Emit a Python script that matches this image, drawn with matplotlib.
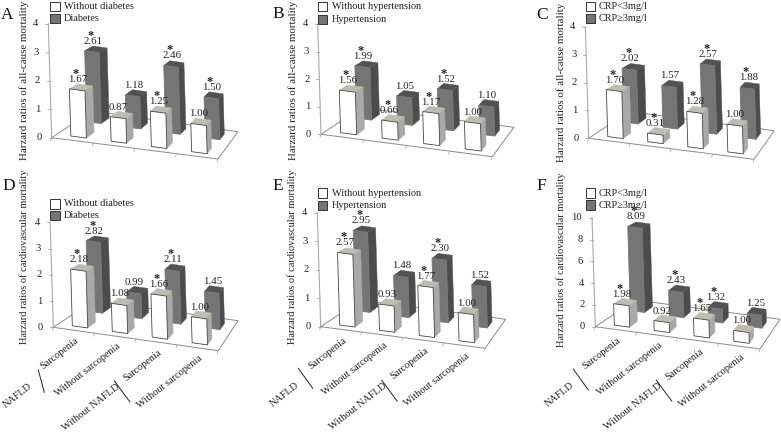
import numpy as np
import matplotlib
matplotlib.use("Agg")
import matplotlib.pyplot as plt
from matplotlib.patches import Polygon, Rectangle

plt.rcParams["font.family"] = ["Liberation Serif", "DejaVu Sans"]

# values, front row then back row
a_front = [1.67, 0.87, 1.25, 1.00]
a_back = [2.61, 1.18, 2.46, 1.50]
b_front = [1.56, 0.66, 1.17, 1.00]
b_back = [1.99, 1.05, 1.52, 1.10]
c_front = [1.70, 0.31, 1.28, 1.00]
c_back = [2.02, 1.57, 2.57, 1.88]
d_front = [2.18, 1.08, 1.66, 1.00]
d_back = [2.82, 0.99, 2.11, 1.45]
e_front = [2.57, 0.93, 1.77, 1.00]
e_back = [2.95, 1.48, 2.30, 1.52]
f_front = [1.98, 0.92, 1.65, 1.00]
f_back = [8.09, 2.43, 1.32, 1.25]

# significance stars
a_front_star = [1, 0, 1, 0]
a_back_star = [1, 0, 1, 1]
b_front_star = [1, 1, 1, 0]
b_back_star = [1, 0, 1, 0]
c_front_star = [1, 1, 1, 0]
c_back_star = [1, 0, 1, 1]
d_front_star = [1, 0, 1, 0]
d_back_star = [1, 0, 1, 0]
e_front_star = [1, 0, 1, 0]
e_back_star = [1, 0, 1, 0]
f_front_star = [1, 0, 1, 0]
f_back_star = [1, 1, 1, 0]

sarc_labels = ["Sarcopenia", "Without sarcopenia", "Sarcopenia", "Without sarcopenia"]
ticks_4 = [0, 1, 2, 3, 4]
ticks_10 = [0, 2, 4, 6, 8, 10]

ALLCAUSE = "Harzard ratios of all-cause mortality"
CARDIO = "Harzard ratios of cardiovascular mortality"
DM = ["Without diabetes", "Diabetes"]
HT = ["Without hypertension", "Hypertension"]
CRP = ["CRP<3mg/l", "CRP≥3mg/l"]

WHITE = ("#ffffff", "#a9a9a9", "#bdbdb0")   # front, side, top
DARK = ("#757575", "#4c4c4c", "#525252")

# letter, data, layout in pixels of the 781x437 picture
panels = [
    dict(name="A", front=a_front, back=a_back, fs=a_front_star, bs=a_back_star, ticks=ticks_4,
         ylabel=ALLCAUSE, legend=DM, fl=(51.7, 137.7), fr=(218, 159), br=(238, 131.7), s=28.5,
         name_xy=(7.5, 15), ylab_xy=(24, 80), box_x=50, text_x=63.5, leg_y=(6.4, 18.7), cats=False),
    dict(name="B", front=b_front, back=b_back, fs=b_front_star, bs=b_back_star, ticks=ticks_4,
         ylabel=ALLCAUSE, legend=HT, fl=(321, 134.3), fr=(492.3, 156.7), br=(514, 127.3), s=27.6,
         name_xy=(278.5, 14), ylab_xy=(293, 80), box_x=317.5, text_x=332, leg_y=(6.4, 19.5), cats=False),
    dict(name="C", front=c_front, back=c_back, fs=c_front_star, bs=c_back_star, ticks=ticks_4,
         ylabel=ALLCAUSE, legend=CRP, fl=(588.7, 138.3), fr=(754, 159.3), br=(774.3, 130.7), s=27.9,
         name_xy=(542.5, 15), ylab_xy=(561, 82), box_x=585.7, text_x=599, leg_y=(6.4, 18.7), cats=False),
    dict(name="D", front=d_front, back=d_back, fs=d_front_star, bs=d_back_star, ticks=ticks_4,
         ylabel=CARDIO, legend=DM, fl=(53.3, 327.3), fr=(218.3, 350.7), br=(238, 320.7), s=26.25,
         name_xy=(9, 186), ylab_xy=(24, 257), box_x=50, text_x=63.5, leg_y=(204, 215.5), cats=True,
         line1=(-15, 42.7, -9, 65)),
    dict(name="E", front=e_front, back=e_back, fs=e_front_star, bs=e_back_star, ticks=ticks_4,
         ylabel=CARDIO, legend=HT, fl=(320.7, 326.7), fr=(485, 348.3), br=(505.7, 319.3), s=28.5,
         name_xy=(277.5, 186), ylab_xy=(292, 257), box_x=317.5, text_x=332, leg_y=(193, 205.5), cats=True,
         line1=(-22.4, 41.6, -8, 61.6)),
    dict(name="F", front=f_front, back=f_back, fs=f_front_star, bs=f_back_star, ticks=ticks_10,
         ylabel=CARDIO, legend=CRP, fl=(595.3, 326.7), fr=(760, 349), br=(780, 319.3), s=10.9,
         name_xy=(541.5, 186), ylab_xy=(561, 260), box_x=585.7, text_x=599, leg_y=(193, 205), cats=True,
         line1=(-22, 42.3, -7, 63.3)),
]

BACK_LEFT = (40.3, -26.7)
TILT = -0.03
U_WIDTH = 0.095
ROWS = [(0.085, 0.246, 0.13, 0.34), (0.058, 0.258, 0.65, 0.86)]   # u start, u step, v near, v far


def floor_map(p00, p10, p11, p01):
    # bilinear map of the unit square onto the floor quad
    p00, p10, p11, p01 = map(np.array, (p00, p10, p11, p01))

    def project(u, v, val=0.0, s=0.0):
        q = (1 - v) * ((1 - u) * p00 + u * p10) + v * ((1 - u) * p01 + u * p11)
        dy = val * s * (1 - 0.07 * v)
        return (q[0] + TILT * dy, q[1] - dy)
    return project


def draw_bar(ax, pr, u0, u1, v0, v1, val, s, cols, z, edge):
    # only the three visible faces
    front = [pr(u0, v0), pr(u1, v0), pr(u1, v0, val, s), pr(u0, v0, val, s)]
    side = [pr(u1, v0), pr(u1, v1), pr(u1, v1, val, s), pr(u1, v0, val, s)]
    top = [pr(u0, v0, val, s), pr(u1, v0, val, s), pr(u1, v1, val, s), pr(u0, v1, val, s)]
    ax.add_patch(Polygon(side, closed=True, fc=cols[1], ec=cols[1], lw=0.3, zorder=z))
    ax.add_patch(Polygon(top, closed=True, fc=cols[2], ec=cols[2], lw=0.3, zorder=z))
    ax.add_patch(Polygon(front, closed=True, fc=cols[0], ec=edge, lw=0.6, zorder=z))


fig = plt.figure(figsize=(7.81, 4.37), dpi=100)
ax = fig.add_axes([0, 0, 1, 1])
ax.set_xlim(0, 781)
ax.set_ylim(437, 0)
ax.axis("off")

for p in panels:
    fl, fr, br = p["fl"], p["fr"], p["br"]
    bl = (fl[0] + BACK_LEFT[0], fl[1] + BACK_LEFT[1])
    pr = floor_map(fl, fr, br, bl)
    s = p["s"]

    # floor and value axis
    ax.add_patch(Polygon([fl, fr, br, bl], closed=True, fc="white", ec="#8c8c8c", lw=0.7, zorder=1))
    top_tick = p["ticks"][-1]
    ax_top = pr(0, 0, top_tick, s)
    ax.plot([fl[0], ax_top[0]], [fl[1], ax_top[1]], color="#a8a8a8", lw=0.8, zorder=1)
    for t in p["ticks"]:
        x, y = pr(0, 0, t, s)
        ax.plot([x - 3, x], [y, y], color="#a8a8a8", lw=0.6, zorder=1)
        ax.text(x - 10, y, str(t), ha="right", va="center", fontsize=7.6, color="#222222")

    # categories
    for i in range(5):
        x, y = pr(i * 0.25, 0)
        ax.plot([x, x - 1], [y, y + 3], color="#a0a0a0", lw=0.5, zorder=1)

    # bars, back row first so the white ones cover them
    for row, vals, stars, cols, z, edge in ((1, p["back"], p["bs"], DARK, 2, DARK[0]),
                                            (0, p["front"], p["fs"], WHITE, 3, "#444444")):
        ustart, ustep, v0, v1 = ROWS[row]
        for i, val in enumerate(vals):
            u0 = ustart + i * ustep
            draw_bar(ax, pr, u0, u0 + U_WIDTH, v0, v1, val, s, cols, z + i * 0.01, edge)
            x, y = pr(u0, v0, val, s)
            ax.text(x + 8, y - 9.5, f"{val:.2f}", ha="center", va="center", fontsize=7.8,
                    color="#222222", zorder=6)
            if stars[i]:
                ax.text(x + 6, y - 15, "*", ha="center", va="center", fontsize=9,
                        fontweight="bold", color="#222222", zorder=6)

    # panel letter, y label, legend
    ax.text(*p["name_xy"], p["name"], ha="center", va="center", fontsize=12.5, color="#111111")
    ylab_size = 7.8 if p["ylabel"] == ALLCAUSE else 7.5
    ax.text(*p["ylab_xy"], p["ylabel"], ha="center", va="center", rotation=90, fontsize=ylab_size, color="#222222")
    for y, lab, col in zip(p["leg_y"], p["legend"], (WHITE[0], DARK[0])):
        ax.add_patch(Rectangle((p["box_x"], y - 4.7), 9.6, 9.4, fc=col, ec="#333333", lw=0.7, zorder=5))
        ax.text(p["text_x"], y, lab, ha="left", va="center", fontsize=7.4, color="#222222")

    # group labels under the lower row
    if p["cats"]:
        for i, lab in enumerate(sarc_labels):
            x, y = pr(0.125 + i * 0.25, 0)
            ax.text(x + 1, y + 6, lab, ha="right", va="top", rotation=38, rotation_mode="anchor",
                    fontsize=7.4, color="#222222")
        ax.text(fl[0] - 36, fl[1] + 68, "NAFLD", ha="center", va="center", rotation=38,
                fontsize=7.4, color="#222222")
        ax.text(fl[0] + 37.5, fl[1] + 80, "Without NAFLD", ha="center", va="center", rotation=38,
                fontsize=7.4, color="#222222")
        l = p["line1"]
        ax.plot([fl[0] + l[0], fl[0] + l[2]], [fl[1] + l[1], fl[1] + l[3]], color="#222222", lw=0.7)
        ax.plot([fl[0] + 61, fl[0] + 76.5], [fl[1] + 53.5, fl[1] + 74.5], color="#222222", lw=0.7)

fig.savefig("out.png", dpi=100)
